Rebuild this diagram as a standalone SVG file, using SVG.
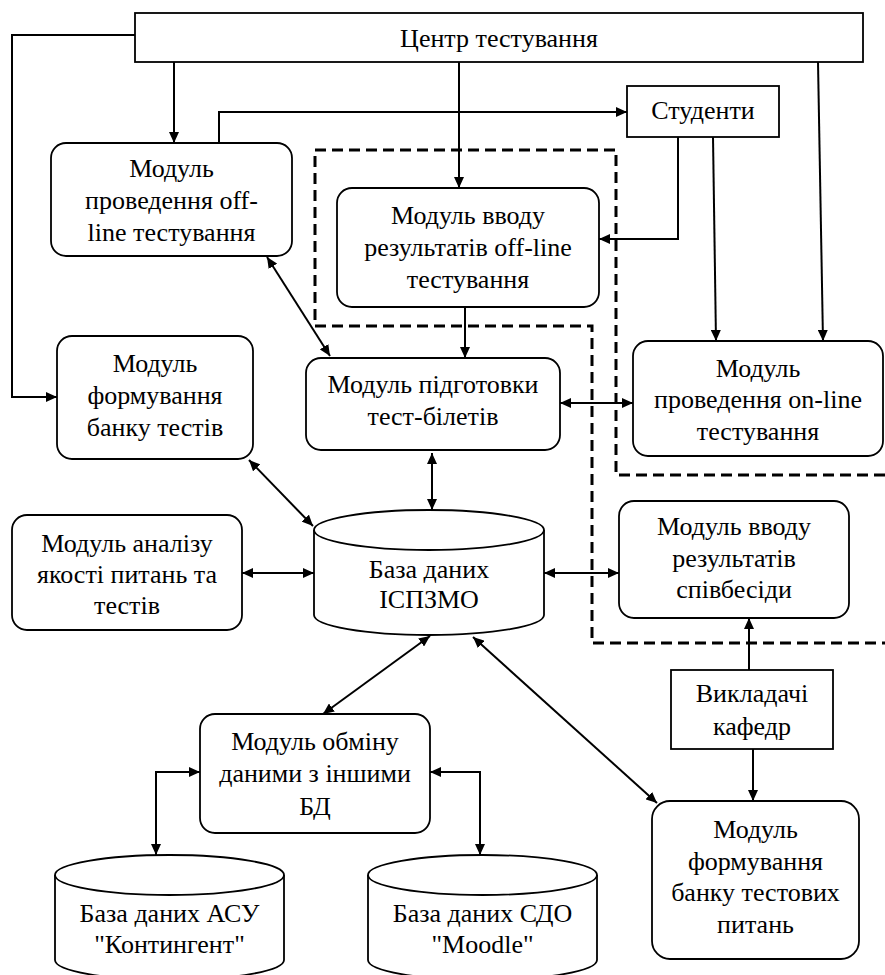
<svg xmlns="http://www.w3.org/2000/svg" width="885" height="975" viewBox="0 0 885 975" font-family="Liberation Serif, DejaVu Serif, serif">
<style>
.b{fill:#fff;stroke:#000;stroke-width:1.8}
.t{font-family:Liberation Serif, DejaVu Serif, serif;font-size:26px;fill:#000;text-anchor:middle}
.c{fill:none;stroke:#000;stroke-width:2}
.d{fill:none;stroke:#000;stroke-width:3;stroke-dasharray:11 6}
</style>
<defs>
<marker id="a" markerWidth="11" markerHeight="10" refX="11" refY="5" orient="auto-start-reverse" markerUnits="userSpaceOnUse">
<path d="M0,0 L11,5 L0,10 z" fill="#000"/>
</marker>
</defs>
<rect width="885" height="975" fill="#fff"/>
<g id="dashed">
<path class="d" d="M885,475 H616 V150 H315 V326 H592 V643 H885"/>
</g>
<g id="connectors">
<path class="c" d="M135,35 H12 V397 H57" marker-end="url(#a)"/>
<path class="c" d="M174,62 V143" marker-end="url(#a)"/>
<path class="c" d="M219,143 V112 H627" marker-end="url(#a)"/>
<path class="c" d="M459,62 V188" marker-end="url(#a)"/>
<path class="c" d="M678,137 V239 H599" marker-end="url(#a)"/>
<path class="c" d="M713,137 L716,341" marker-end="url(#a)"/>
<path class="c" d="M818,62 L823,341" marker-end="url(#a)"/>
<path class="c" d="M465,307 V358" marker-end="url(#a)"/>
<path class="c" d="M267,257 L330,356" marker-start="url(#a)" marker-end="url(#a)"/>
<path class="c" d="M560,403 H633" marker-start="url(#a)" marker-end="url(#a)"/>
<path class="c" d="M249,460 L313,526" marker-start="url(#a)" marker-end="url(#a)"/>
<path class="c" d="M432,453 V510" marker-start="url(#a)" marker-end="url(#a)"/>
<path class="c" d="M242,573 H314" marker-start="url(#a)" marker-end="url(#a)"/>
<path class="c" d="M544,573 H619" marker-start="url(#a)" marker-end="url(#a)"/>
<path class="c" d="M749,670 V618" marker-end="url(#a)"/>
<path class="c" d="M753,749 V801" marker-end="url(#a)"/>
<path class="c" d="M473,637 L657,803" marker-start="url(#a)" marker-end="url(#a)"/>
<path class="c" d="M430,636 L323,714" marker-start="url(#a)" marker-end="url(#a)"/>
<path class="c" d="M200,772 H156 V855" marker-start="url(#a)" marker-end="url(#a)"/>
<path class="c" d="M430,772 H480 V855" marker-start="url(#a)" marker-end="url(#a)"/>
</g>
<g id="centr">
<rect class="b" x="135" y="13" width="728" height="49"/>
<text class="t" x="499" y="47">Центр тестування</text>
</g>
<g id="studenty">
<rect class="b" x="627" y="86" width="152" height="51"/>
<text class="t" x="703" y="119">Студенти</text>
</g>
<g id="offline">
<rect class="b" x="51" y="143" width="241" height="113" rx="15"/>
<text class="t" x="171.5" y="177">Модуль</text>
<text class="t" x="171.5" y="209">проведення off-</text>
<text class="t" x="171.5" y="241">line тестування</text>
</g>
<g id="vvod-offline">
<rect class="b" x="337" y="188" width="262" height="119" rx="15"/>
<text class="t" x="468" y="224">Модуль вводу</text>
<text class="t" x="468" y="256">результатів off-line</text>
<text class="t" x="468" y="288">тестування</text>
</g>
<g id="bank-testiv">
<rect class="b" x="57" y="336" width="196" height="123" rx="15"/>
<text class="t" x="155" y="372">Модуль</text>
<text class="t" x="155" y="404">формування</text>
<text class="t" x="155" y="436">банку тестів</text>
</g>
<g id="pidgotovky">
<rect class="b" x="306" y="358" width="254" height="92" rx="15"/>
<text class="t" x="433" y="393">Модуль підготовки</text>
<text class="t" x="433" y="425">тест-білетів</text>
</g>
<g id="online">
<rect class="b" x="633" y="341" width="250" height="115" rx="15"/>
<text class="t" x="758" y="377">Модуль</text>
<text class="t" x="758" y="408">проведення on-line</text>
<text class="t" x="758" y="440">тестування</text>
</g>
<g id="analiz">
<rect class="b" x="12" y="515" width="230" height="115" rx="15"/>
<text class="t" x="127" y="552">Модуль аналізу</text>
<text class="t" x="127" y="583">якості питань та</text>
<text class="t" x="127" y="614">тестів</text>
</g>
<g id="db-ispzmo">
<path class="b" d="M314,530 A115,20 0 0 1 544,530 V615 A115,20 0 0 1 314,615 Z"/>
<path class="b" style="fill:none" d="M314,530 A115,20 0 0 0 544,530"/>
<text class="t" x="429" y="578">База даних</text>
<text class="t" x="429" y="608">ІСПЗМО</text>
</g>
<g id="spivbesidy">
<rect class="b" x="619" y="501" width="230" height="117" rx="15"/>
<text class="t" x="734" y="535">Модуль вводу</text>
<text class="t" x="734" y="567">результатів</text>
<text class="t" x="734" y="598">співбесіди</text>
</g>
<g id="vykladachi">
<rect class="b" x="671" y="670" width="162" height="79"/>
<text class="t" x="752" y="702">Викладачі</text>
<text class="t" x="752" y="735">кафедр</text>
</g>
<g id="obmin">
<rect class="b" x="200" y="714" width="230" height="119" rx="15"/>
<text class="t" x="315" y="750">Модуль обміну</text>
<text class="t" x="315" y="782">даними з іншими</text>
<text class="t" x="315" y="815">БД</text>
</g>
<g id="bank-pytan">
<rect class="b" x="652" y="801" width="207" height="158" rx="18"/>
<text class="t" x="755.5" y="838">Модуль</text>
<text class="t" x="755.5" y="870">формування</text>
<text class="t" x="755.5" y="901">банку тестових</text>
<text class="t" x="755.5" y="933">питань</text>
</g>
<g id="db-kontyngent">
<path class="b" d="M55,875 A114.5,20 0 0 1 284,875 V960 A114.5,20 0 0 1 55,960 Z"/>
<path class="b" style="fill:none" d="M55,875 A114.5,20 0 0 0 284,875"/>
<text class="t" x="169.5" y="922">База даних АСУ</text>
<text class="t" x="169.5" y="953">"Контингент"</text>
</g>
<g id="db-moodle">
<path class="b" d="M368,875 A114.5,20 0 0 1 597,875 V960 A114.5,20 0 0 1 368,960 Z"/>
<path class="b" style="fill:none" d="M368,875 A114.5,20 0 0 0 597,875"/>
<text class="t" x="482.5" y="922">База даних СДО</text>
<text class="t" x="482.5" y="953">"Moodle"</text>
</g>
</svg>
